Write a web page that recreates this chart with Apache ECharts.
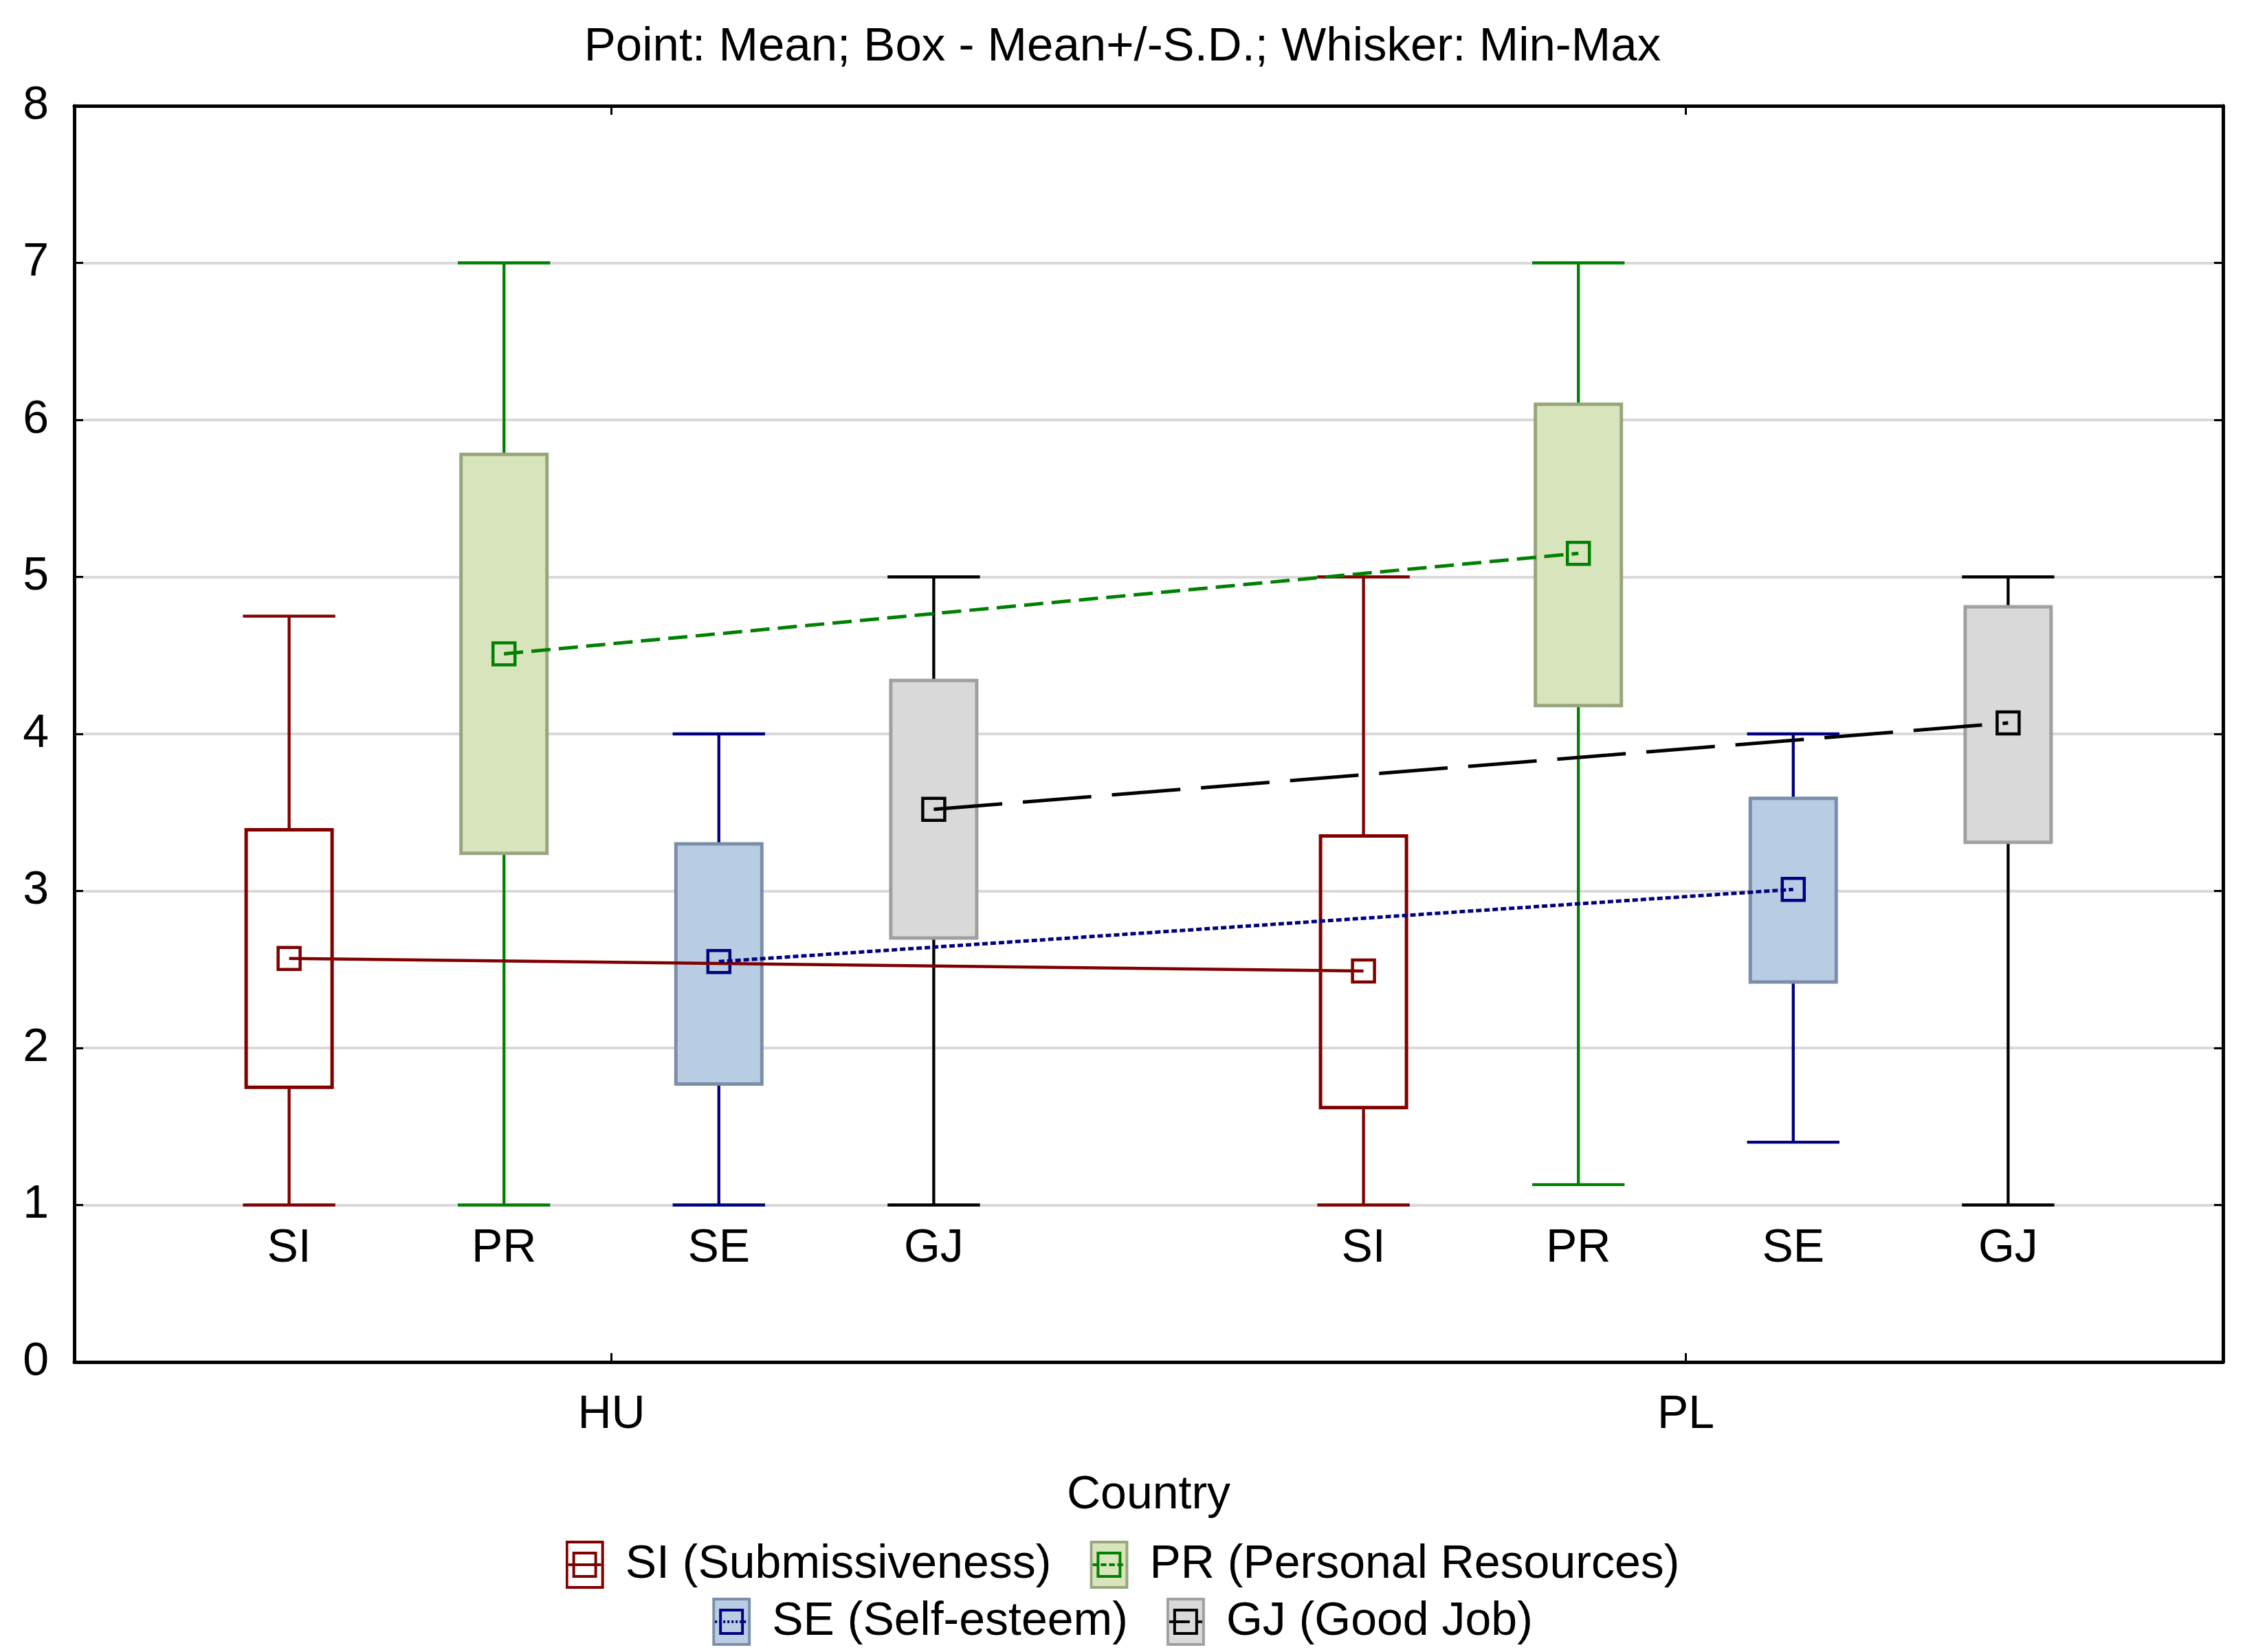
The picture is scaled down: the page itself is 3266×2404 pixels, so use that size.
<!DOCTYPE html>
<html>
<head>
<meta charset="utf-8">
<script src="https://cdn.jsdelivr.net/npm/echarts@6/dist/echarts.min.js"></script>
<style>
html,body{margin:0;padding:0;background:#ffffff;}
#c{width:3266px;height:2404px;}
</style>
</head>
<body>
<div id="c"></div>
<script>
// ---------------- data ----------------
const categories = ['HU', 'PL'];
const variables = ['SI', 'PR', 'SE', 'GJ'];
const legendNames = ['SI (Submissiveness)', 'PR (Personal Resources)', 'SE (Self-esteem)', 'GJ (Good Job)'];
// per country: [min, mean-SD, mean, mean+SD, max]
const SI_stats = [[1.00, 1.75, 2.57, 3.39, 4.75], [1.00, 1.62, 2.49, 3.35, 5.00]];
const PR_stats = [[1.00, 3.24, 4.51, 5.78, 7.00], [1.13, 4.18, 5.15, 6.10, 7.00]];
const SE_stats = [[1.00, 1.77, 2.55, 3.30, 4.00], [1.40, 2.42, 3.01, 3.59, 4.00]];
const GJ_stats = [[1.00, 2.70, 3.52, 4.34, 5.00], [1.00, 3.31, 4.07, 4.81, 5.00]];
const statsList = [SI_stats, PR_stats, SE_stats, GJ_stats];
const yMin = 0, yMax = 8, yInterval = 1;
const titleText = 'Point: Mean; Box - Mean+/-S.D.; Whisker: Min-Max';
const xAxisName = 'Country';

// ---------------- styles ----------------
const FONT = "'Liberation Sans', Arial, Helvetica, sans-serif";
const FS = 68;
const styles = [
  {whisker: '#800000', fill: 'none',    border: '#800000', mean: '#800000', line: '#800000', dash: 'solid',   lw: 4.5},
  {whisker: '#008000', fill: '#d8e4bc', border: '#98a67e', mean: '#008000', line: '#008000', dash: [28, 12],  lw: 5},
  {whisker: '#000080', fill: '#b8cce4', border: '#7a8ea8', mean: '#000080', line: '#000080', dash: [8, 4],    lw: 5},
  {whisker: '#000000', fill: '#d9d9d9', border: '#a0a0a0', mean: '#000000', line: '#000000', dash: [100, 30], lw: 5}
];
const offsets = [-0.3, -0.1, 0.1, 0.3];   // position within category band
const BOX_W = 0.08, CAP_W = 0.043, MARK = 32, LABEL_Y = 0.72;

function makeRender(vi) {
  const st = styles[vi];
  return function (params, api) {
    const x = api.value(0);
    const pMin = api.coord([x, api.value(1)]);
    const pLo = api.coord([x, api.value(2)]);
    const pMean = api.coord([x, api.value(3)]);
    const pHi = api.coord([x, api.value(4)]);
    const pMax = api.coord([x, api.value(5)]);
    const bw = api.size([BOX_W, 0])[0];
    const cw = api.size([CAP_W, 0])[0];
    const pl = api.coord([x, LABEL_Y]);
    const cx = pMean[0];
    const wStyle = {stroke: st.whisker, lineWidth: 4.3, fill: 'none'};
    return {
      type: 'group',
      children: [
        {type: 'line', shape: {x1: cx, y1: pHi[1], x2: cx, y2: pMax[1]}, style: wStyle},
        {type: 'line', shape: {x1: cx, y1: pLo[1], x2: cx, y2: pMin[1]}, style: wStyle},
        {type: 'line', shape: {x1: cx - cw, y1: pMax[1], x2: cx + cw, y2: pMax[1]}, style: wStyle},
        {type: 'line', shape: {x1: cx - cw, y1: pMin[1], x2: cx + cw, y2: pMin[1]}, style: wStyle},
        {type: 'rect', shape: {x: cx - bw / 2, y: pHi[1], width: bw, height: pLo[1] - pHi[1]},
          style: {fill: st.fill, stroke: st.border, lineWidth: 5}},
        {type: 'rect', shape: {x: cx - MARK / 2, y: pMean[1] - MARK / 2, width: MARK, height: MARK},
          style: {fill: 'none', stroke: st.mean, lineWidth: 4.5}},
        {type: 'text', x: cx, y: pl[1],
          style: {text: variables[vi], fill: '#000', fontSize: FS, fontFamily: FONT, align: 'center', verticalAlign: 'middle'}}
      ]
    };
  };
}

function legendIcon(vi) {
  const st = styles[vi];
  const fill = st.fill === 'none' ? '#ffffff' : st.fill;
  const dash = Array.isArray(st.dash) ? ' stroke-dasharray="' + st.dash.map(d => Math.max(3, d * 0.3)).join(',') + '"' : '';
  const svg = '<svg xmlns="http://www.w3.org/2000/svg" width="82" height="70" viewBox="0 0 82 70">' +
    '<rect x="2" y="2" width="52" height="66" fill="' + fill + '" stroke="' + st.border + '" stroke-width="4"/>' +
    '<line x1="4" y1="35" x2="52" y2="35" stroke="' + st.line + '" stroke-width="4"' + dash + '/>' +
    '<rect x="12" y="18" width="32" height="34" fill="none" stroke="' + st.mean + '" stroke-width="4"/>' +
    '</svg>';
  return 'image://data:image/svg+xml;charset=utf-8,' + encodeURIComponent(svg);
}

const series = [];
variables.forEach(function (v, vi) {
  const st = styles[vi];
  series.push({
    name: legendNames[vi],
    type: 'custom',
    xAxisIndex: 1,
    yAxisIndex: 0,
    clip: false,
    renderItem: makeRender(vi),
    encode: {x: 0, y: [1, 2, 3, 4, 5]},
    data: statsList[vi].map((s, ci) => [ci + 0.5 + offsets[vi]].concat(s)),
    itemStyle: {color: st.line}
  });
  series.push({
    name: legendNames[vi],
    type: 'line',
    xAxisIndex: 1,
    yAxisIndex: 0,
    symbol: 'none',
    clip: false,
    silent: true,
    lineStyle: {color: st.line, width: st.lw, type: st.dash},
    itemStyle: {color: st.line},
    data: statsList[vi].map((s, ci) => [ci + 0.5 + offsets[vi], s[2]])
  });
});

const axisLineStyle = {show: true, lineStyle: {color: '#000', width: 5}};
const tickStyle = {show: true, inside: true, length: 13, lineStyle: {color: '#000', width: 3}};

const option = {
  animation: false,
  backgroundColor: '#ffffff',
  title: {
    text: titleText, left: 'center', top: 34, padding: 0,
    textStyle: {fontSize: 69, fontWeight: 'normal', color: '#000', fontFamily: FONT, lineHeight: 69}
  },
  legend: [
    {
      data: [0, 1].map(i => ({name: legendNames[i], icon: legendIcon(i)})),
      left: 'center', top: 2237, itemWidth: 82, itemHeight: 70, itemGap: 56,
      selectedMode: false,
      textStyle: {fontSize: FS, color: '#000', fontFamily: FONT}
    },
    {
      data: [2, 3].map(i => ({name: legendNames[i], icon: legendIcon(i)})),
      left: 'center', top: 2320, itemWidth: 82, itemHeight: 70, itemGap: 56,
      selectedMode: false,
      textStyle: {fontSize: FS, color: '#000', fontFamily: FONT}
    }
  ],
  grid: {left: 108, right: 32, top: 154, bottom: 422, containLabel: false},
  xAxis: [
    {
      type: 'category', data: categories, position: 'bottom', boundaryGap: true,
      axisLine: axisLineStyle,
      axisTick: Object.assign({alignWithLabel: true}, tickStyle),
      axisLabel: {fontSize: FS, color: '#000', fontFamily: FONT, margin: 43, lineHeight: FS},
      splitLine: {show: false},
      name: xAxisName, nameLocation: 'middle', nameGap: 160,
      nameTextStyle: {fontSize: FS, color: '#000', fontFamily: FONT, lineHeight: FS}
    },
    {type: 'value', min: 0, max: categories.length, show: false},
    {
      type: 'category', data: categories, position: 'top', boundaryGap: true,
      axisLine: axisLineStyle,
      axisTick: Object.assign({alignWithLabel: true}, tickStyle),
      axisLabel: {show: false},
      splitLine: {show: false}
    }
  ],
  yAxis: [
    {
      type: 'value', min: yMin, max: yMax, interval: yInterval, position: 'left',
      axisLine: axisLineStyle,
      axisTick: tickStyle,
      axisLabel: {fontSize: FS, color: '#000', fontFamily: FONT, margin: 37},
      splitLine: {show: true, lineStyle: {color: '#d9d9d9', width: 4}}
    },
    {
      type: 'value', min: yMin, max: yMax, interval: yInterval, position: 'right',
      axisLine: axisLineStyle,
      axisTick: tickStyle,
      axisLabel: {show: false},
      splitLine: {show: false}
    }
  ],
  series: series
};

const chart = echarts.init(document.getElementById('c'), null, {renderer: 'canvas'});
chart.setOption(option);
</script>
</body>
</html>
